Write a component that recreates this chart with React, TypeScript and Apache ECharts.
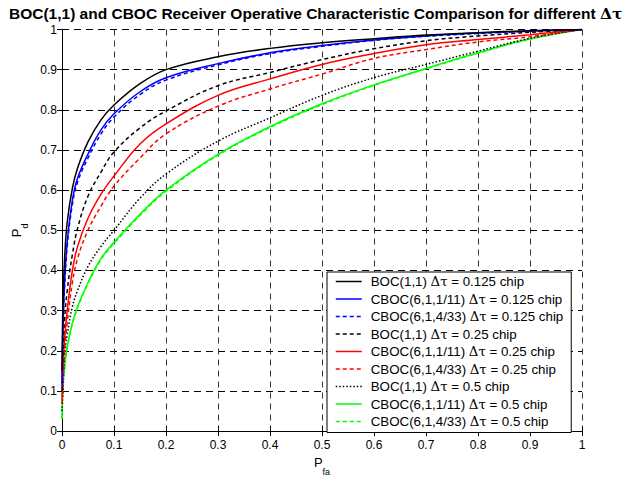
import React, { useEffect, useRef } from "react";
import * as echarts from "echarts";

const X = [0, 0.002, 0.005, 0.01, 0.02, 0.03, 0.05, 0.075, 0.1, 0.15, 0.2, 0.3, 0.4, 0.5, 0.6, 0.7, 0.8, 0.9, 1];

const boc125 = [0.15, 0.33, 0.43, 0.52, 0.605, 0.655, 0.72, 0.775, 0.812, 0.865, 0.9, 0.932, 0.953, 0.967, 0.977, 0.986, 0.992, 0.997, 1];
const cboc11_125 = [0.12, 0.27, 0.37, 0.47, 0.575, 0.63, 0.69, 0.75, 0.79, 0.845, 0.88, 0.915, 0.942, 0.96, 0.974, 0.984, 0.991, 0.996, 1];
const cboc433_125 = [0.11, 0.26, 0.36, 0.46, 0.565, 0.62, 0.68, 0.74, 0.782, 0.838, 0.874, 0.912, 0.94, 0.958, 0.973, 0.983, 0.99, 0.996, 1];
const boc25 = [0.1, 0.2, 0.28, 0.35, 0.44, 0.505, 0.585, 0.645, 0.695, 0.755, 0.797, 0.86, 0.893, 0.925, 0.952, 0.972, 0.984, 0.993, 1];
const cboc11_25 = [0.08, 0.15, 0.23, 0.3, 0.4, 0.46, 0.53, 0.59, 0.635, 0.715, 0.765, 0.836, 0.877, 0.913, 0.94, 0.962, 0.975, 0.987, 1];
const cboc433_25 = [0.07, 0.13, 0.2, 0.27, 0.37, 0.43, 0.5, 0.56, 0.61, 0.68, 0.74, 0.809, 0.852, 0.889, 0.928, 0.95, 0.969, 0.982, 1];
const boc5 = [0.05, 0.1, 0.19, 0.24, 0.31, 0.35, 0.41, 0.46, 0.5, 0.58, 0.64, 0.722, 0.78, 0.836, 0.88, 0.913, 0.946, 0.978, 1];
const cboc11_5 = [0.03, 0.12, 0.16, 0.21, 0.27, 0.31, 0.37, 0.43, 0.47, 0.54, 0.6, 0.689, 0.758, 0.815, 0.862, 0.903, 0.942, 0.977, 1];
const cboc433_5 = [0.03, 0.118, 0.157, 0.207, 0.267, 0.307, 0.367, 0.427, 0.467, 0.537, 0.597, 0.687, 0.756, 0.813, 0.861, 0.902, 0.941, 0.976, 1];

const names = [
  "BOC(1,1) Δτ = 0.125 chip",
  "CBOC(6,1,1/11) Δτ = 0.125 chip",
  "CBOC(6,1,4/33) Δτ = 0.125 chip",
  "BOC(1,1) Δτ = 0.25 chip",
  "CBOC(6,1,1/11) Δτ = 0.25 chip",
  "CBOC(6,1,4/33) Δτ = 0.25 chip",
  "BOC(1,1) Δτ = 0.5 chip",
  "CBOC(6,1,1/11) Δτ = 0.5 chip",
  "CBOC(6,1,4/33) Δτ = 0.5 chip",
];
const seriesValues = [boc125, cboc11_125, cboc433_125, boc25, cboc11_25, cboc433_25, boc5, cboc11_5, cboc433_5];
const colors = ["#000000", "#0000ff", "#0000ff", "#000000", "#ff0000", "#ff0000", "#000000", "#00ff00", "#00ff00"];
const dashes: any[] = ["solid", "solid", [4, 3], [4, 3], "solid", [4, 3], [1.5, 2], "solid", [4, 3]];

const FONT = "Liberation Sans";

export default function App() {
  const ref = useRef<HTMLDivElement>(null);
  useEffect(() => {
    if (!ref.current) return;
    const chart = echarts.init(ref.current, null, { renderer: "svg" });
    const axisCommon = {
      type: "value",
      min: 0,
      max: 1,
      interval: 0.1,
      axisLine: { show: true, lineStyle: { color: "#000", width: 1 } },
      axisTick: { show: true, inside: true, length: 5, lineStyle: { color: "#000" } },
    };
    const option: any = {
      animation: false,
      backgroundColor: "#fff",
      title: {
        text: "{t|BOC(1,1) and CBOC Receiver Operative Characteristic Comparison for different }{g|Δτ}",
        left: 9,
        top: 5,
        padding: 0,
        textStyle: {
          rich: {
            t: { fontFamily: FONT, fontWeight: "bold", fontSize: 15.5, color: "#000" },
            g: { fontFamily: "DejaVu Serif", fontWeight: "bold", fontSize: 15.5, color: "#000" },
          },
        },
      },
      grid: { left: 62, top: 29.5, width: 520, height: 409, containLabel: false },
      xAxis: [
        {
          ...axisCommon,
          position: "bottom",
          axisLabel: { color: "#000", fontFamily: FONT, fontSize: 12, margin: 8 },
          splitLine: { show: true, lineStyle: { color: "#333", type: [6, 5], width: 1 } },
          name: "{p|P}{s|fa}",
          nameLocation: "middle",
          nameGap: 20,
          nameTextStyle: {
            verticalAlign: "top",
            rich: {
              p: { fontFamily: FONT, fontSize: 13, lineHeight: 13, color: "#000", verticalAlign: "top" },
              s: { fontFamily: FONT, fontSize: 9, lineHeight: 9, color: "#000", padding: [11, 0, 0, 0], verticalAlign: "top" },
            },
          },
        },
        {
          ...axisCommon,
          position: "top",
          axisLabel: { show: false },
          splitLine: { show: false },
        },
      ],
      yAxis: [
        {
          ...axisCommon,
          position: "left",
          axisLabel: { color: "#000", fontFamily: FONT, fontSize: 12, margin: 5 },
          splitLine: { show: true, lineStyle: { color: "#000", type: [7, 5], width: 1 } },
          name: "{p|P}{s|d}",
          nameLocation: "middle",
          nameGap: 30,
          nameRotate: 90,
          nameTextStyle: {
            verticalAlign: "bottom",
            rich: {
              p: { fontFamily: FONT, fontSize: 13, lineHeight: 13, color: "#000", verticalAlign: "top" },
              s: { fontFamily: FONT, fontSize: 9, lineHeight: 9, color: "#000", padding: [10, 0, 0, 0], verticalAlign: "top" },
            },
          },
        },
        {
          ...axisCommon,
          position: "right",
          axisLabel: { show: false },
          splitLine: { show: false },
        },
      ],
      legend: {
        orient: "vertical",
        left: 327,
        top: 272,
        data: names,
        itemWidth: 26,
        itemHeight: 14,
        itemGap: 4.5,
        padding: [3, 8, 4.5, 8],
        backgroundColor: "#fff",
        borderColor: "#000",
        borderWidth: 1,
        borderRadius: 0,
        itemStyle: { opacity: 0 },
        lineStyle: { width: 1.5 },
        formatter: (name: string) => {
          const parts = name.split("Δτ");
          return `{n|${parts[0]}}{g|Δτ}{n|${parts[1]}}`;
        },
        textStyle: {
          padding: [0, 0, 0, 4],
          rich: {
            n: { fontFamily: FONT, fontSize: 13.3, color: "#000" },
            g: { fontFamily: "DejaVu Serif", fontSize: 13.3, color: "#000" },
          },
        },
      },
      series: names.map((n, i) => ({
        name: n,
        type: "line",
        data: X.map((x, j) => [x, seriesValues[i][j]]),
        symbol: "none",
        smooth: 0.4,
        color: colors[i],
        lineStyle: { color: colors[i], width: 1.5, type: dashes[i] },
        z: 10 - i,
      })),
    };
    chart.setOption(option);
    return () => chart.dispose();
  }, []);
  return <div ref={ref} style={{ width: 636, height: 481, position: "absolute", left: 0, top: 0 }} />;
}
